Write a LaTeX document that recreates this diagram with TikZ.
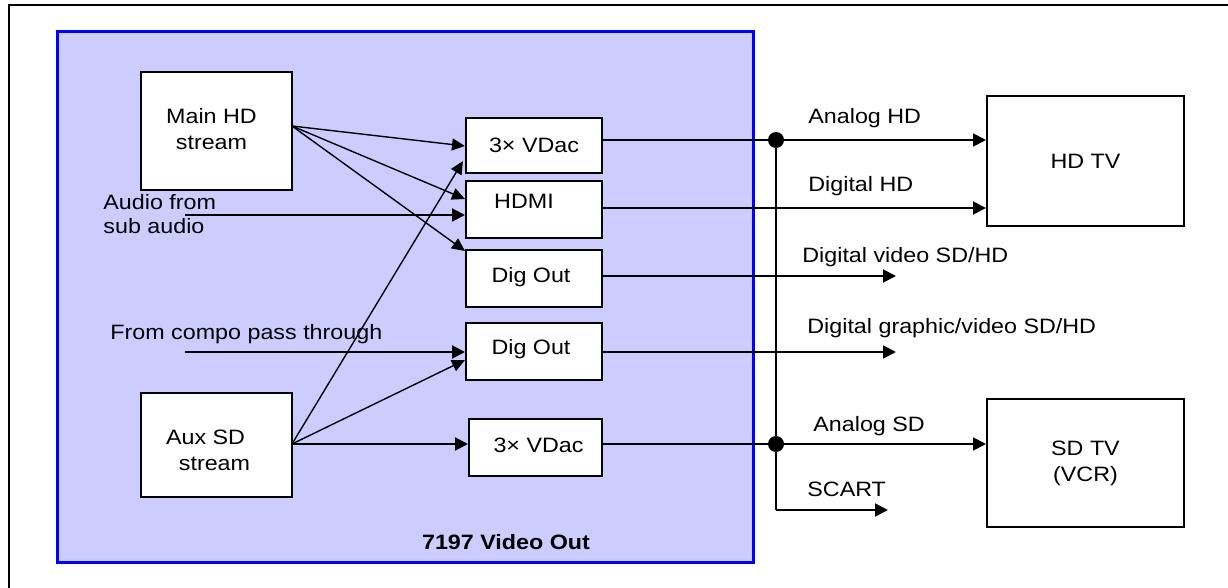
\documentclass[tikz,border=0pt]{standalone}
\usepackage{fontspec}
\setmainfont{Liberation Sans}[FakeStretch=1.12]
\usetikzlibrary{arrows.meta,calc}
\definecolor{panelfill}{HTML}{CCCCFF}
\definecolor{panelblue}{HTML}{0000FF}
\begin{document}
\begin{tikzpicture}[x=0.5pt,y=-0.5pt,
  font=\fontsize{10.4}{13}\selectfont,
  box/.style={draw=black,line width=1pt,fill=white,inner sep=0pt,align=center},
  lbl/.style={inner sep=0pt,anchor=west,align=left},
  conn/.style={line width=1pt},
  arr/.style={line width=1pt,-{Triangle[length=6.5pt,width=6.5pt]}},
  fan/.style={line width=0.7pt,-{Triangle[length=6.5pt,width=6pt]}},
  dot/.style={circle,fill=black,inner sep=0pt,minimum size=8pt}]
\useasboundingbox (0,0) rectangle (1228,588);
\clip (0,0) rectangle (1228,588);
% outer frame (cut by page edge)
\draw[line width=1.2pt] (9,620) -- (9,5) -- (1260,5);
% panel
\node[draw=panelblue,fill=panelfill,line width=1.5pt,minimum width=348pt,minimum height=265.5pt,inner sep=0pt] (panel) at (405,297.5) {};
\node[font=\fontsize{10.4}{13}\selectfont\bfseries] (ptitle) at (506,542) {7197 Video Out};
% source boxes
\node[box,minimum width=75.5pt,minimum height=59pt,label={[align=center,shift={(-2.5pt,1pt)}]center:{Main HD\\stream}}] (mainhd) at (216.5,131) {};
\node[box,minimum width=75.5pt,minimum height=52pt,label={[align=center,shift={(-5.5pt,-2.5pt)}]center:{Aux SD\\\hspace*{9pt}stream}}] (auxsd) at (216.5,445) {};
% output blocks
\node[box,minimum width=68pt,minimum height=27.5pt] (vdac1) at (534,145.5) {3× VDac};
\node[box,minimum width=68pt,minimum height=28.5pt,label={[shift={(-5pt,4pt)}]center:HDMI}] (hdmi) at (534,209.5) {};
\node[box,minimum width=68pt,minimum height=28.5pt,label={[shift={(-1.5pt,0.5pt)}]center:Dig Out}] (dig1) at (534,278.5) {};
\node[box,minimum width=68pt,minimum height=28.5pt,label={[shift={(-1.5pt,1pt)}]center:Dig Out}] (dig2) at (534,351.5) {};
\node[box,minimum width=66.5pt,minimum height=28.5pt,label={[shift={(1.5pt,1pt)}]center:3× VDac}] (vdac2) at (535.5,447.5) {};
% TVs
\node[box,minimum width=98.5pt,minimum height=65pt] (hdtv) at (1085.5,161) {HD TV};
\node[box,minimum width=98.5pt,minimum height=64pt] (sdtv) at (1085.5,463) {SD TV\\(VCR)};
% input labels
\node[lbl,font=\fontsize{10.4}{12}\selectfont] (audiotxt) at (103,214) {Audio from\\sub audio};
\node[lbl] (compotxt) at (110,334) {From compo pass through};
% coordinates
\coordinate (mo) at (292,126);
\coordinate (ao) at (292,444);
\coordinate (audio) at (185,215);
\coordinate (compo) at (185,352);
\coordinate (j1) at (776,140);
\coordinate (j2) at (776,444);
\coordinate (dvs) at (896,276);
\coordinate (dgv) at (896,352);
\coordinate (sc1) at (776,510);
\coordinate (scart) at (888,510);
% fan from main HD
\draw[fan] (mo) -- ($(vdac1.west)+(0,0.5)$);
\draw[fan] (mo) -- ($(hdmi.west)+(0,-10.5)$);
\draw[fan] (mo) -- ($(dig1.north west)+(0,2)$);
% audio, compo
\draw[arr] (audio) -- (hdmi.west |- audio);
\draw[arr] (compo) -- (dig2.west |- compo);
% fan from aux SD
\draw[fan] (ao) -- ($(vdac1.west)+(-2,15.5)$);
\draw[fan] (ao) -- ($(dig2.west)+(0,8.5)$);
\draw[arr] (ao) -- (vdac2.west |- ao);
% right side
\draw[conn] (vdac1.east |- j1) -- (j1);
\draw[arr] (j1) -- (hdtv.west |- j1);
\draw[arr] (hdmi.east |- 0,208) -- (hdtv.west |- 0,208);
\draw[arr] (dig1.east |- dvs) -- (dvs);
\draw[arr] (dig2.east |- dgv) -- (dgv);
\draw[conn] (vdac2.east |- j2) -- (j2);
\draw[arr] (j2) -- (sdtv.west |- j2);
\draw[conn] (j1) -- (sc1);
\draw[arr] (sc1) -- (scart);
\node[dot] (d1) at (j1) {};
\node[dot] (d2) at (j2) {};
% output labels
\node[lbl] (lah) at (808,118) {Analog HD};
\node[lbl] (ldh) at (808,186) {Digital HD};
\node[lbl] (ldv) at (802,257) {Digital video SD/HD};
\node[lbl] (ldg) at (807,328) {Digital graphic/video SD/HD};
\node[lbl] (las) at (813,426) {Analog SD};
\node[lbl] (lsc) at (807,489) {SCART};
\end{tikzpicture}
\end{document}
